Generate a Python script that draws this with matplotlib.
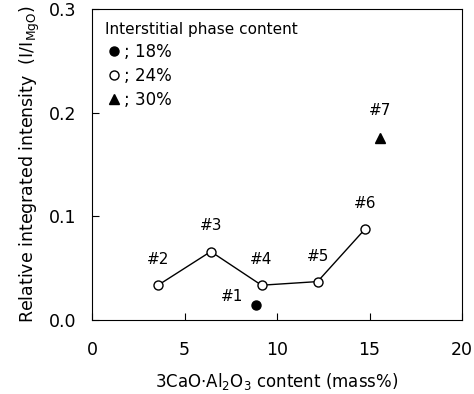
import matplotlib
matplotlib.use("Agg")
import numpy as np
from matplotlib import pyplot as plt
from matplotlib.lines import Line2D

plt.rcParams['font.family'] = ['DejaVu Sans']
plt.rcParams['mathtext.fontset'] = 'dejavusans'

# samples with 24% interstitial phase (connected line)
x24 = [3.57, 6.42, 9.16, 12.19, 14.77]
y24 = [0.0335, 0.066, 0.0335, 0.037, 0.088]
lab24 = ['#2', '#3', '#4', '#5', '#6']

x18 = [8.87]
y18 = [0.0145]
lab18 = ['#1']

x30 = [15.58]
y30 = [0.176]
lab30 = ['#7']

fig = plt.figure(figsize=(4.74, 3.94), dpi=100)
ax = fig.add_axes([0.194, 0.188, 0.781, 0.789])

ax.plot(x24, y24, '-', color='black', lw=1.0, zorder=1)
ax.plot(x24, y24, 'o', mfc='white', mec='black', mew=1.0, ms=6.5, zorder=2)
ax.plot(x18, y18, 'o', color='black', ms=6.5)
ax.plot(x30, y30, '^', color='black', ms=6.5)

for xx, yy, t in zip(x24, y24, lab24):
    ax.annotate(t, (xx, yy), xytext=(0, 13), textcoords='offset points',
                ha='center', va='bottom', fontsize=11)
ax.annotate(lab18[0], (x18[0], y18[0]), xytext=(-9, 1), textcoords='offset points',
            ha='right', va='bottom', fontsize=11)
ax.annotate(lab30[0], (x30[0], y30[0]), xytext=(0, 14), textcoords='offset points',
            ha='center', va='bottom', fontsize=11)

ax.set_xlim(0, 20)
ax.set_ylim(0, 0.3)
ax.set_xticks([0, 5, 10, 15, 20])
ax.set_yticks([0.0, 0.1, 0.2, 0.3])
ax.set_yticklabels(['0.0', '0.1', '0.2', '0.3'])
ax.tick_params(direction='in', length=5, labelsize=12.5)
ax.tick_params(axis='x', pad=15)
ax.tick_params(axis='y', pad=11)

ax.set_xlabel('3CaO$\\cdot$Al$_2$O$_3$ content (mass%)', fontsize=12, labelpad=9)
ax.set_ylabel('Relative integrated intensity  (I/I$_{\\mathrm{MgO}}$)', fontsize=12.5, labelpad=5)

handles = [
    Line2D([], [], marker='o', ls='none', color='black', ms=6.5),
    Line2D([], [], marker='o', ls='none', mfc='white', mec='black', ms=6.5),
    Line2D([], [], marker='^', ls='none', color='black', ms=6.5),
]
leg = ax.legend(handles, ['; 18%', '; 24%', '; 30%'], title='Interstitial phase content',
                loc='upper left', frameon=False, fontsize=12, title_fontsize=11,
                handletextpad=0.1, handlelength=1.0, labelspacing=0.35,
                borderaxespad=0.4)
leg._legend_box.align = 'left'

fig.savefig('out.png', dpi=100)
